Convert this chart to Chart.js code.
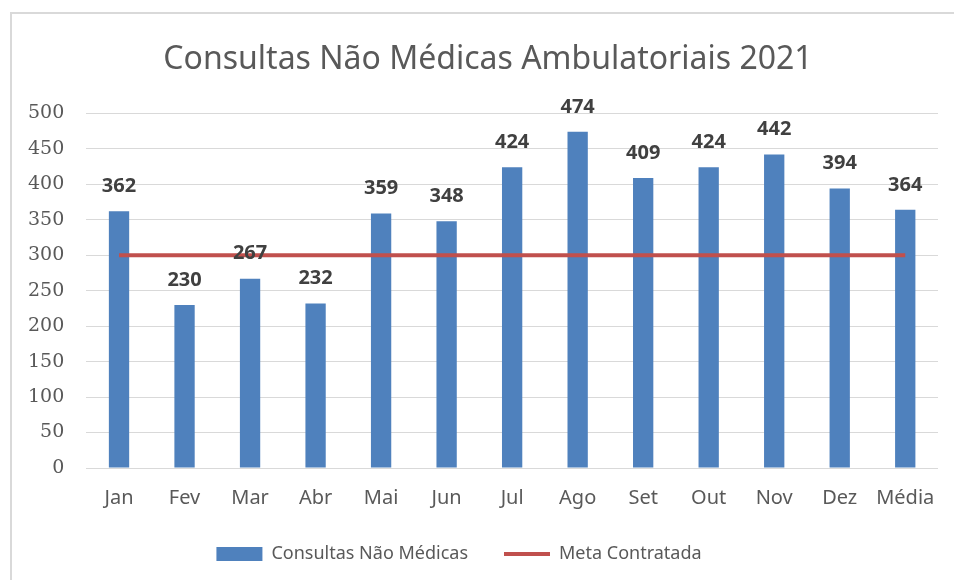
<!DOCTYPE html>
<html>
<head>
<meta charset="utf-8">
<script src="https://cdn.jsdelivr.net/npm/chart.js@4"></script>
<style>
  body { margin: 0; background: #fff; }
  #frame { position: absolute; left: 10px; top: 12px; width: 960px; height: 600px;
           border-left: 2px solid #d9d9d9; border-top: 2px solid #d9d9d9; }
  #wrap { position: absolute; left: 0; top: 0; width: 954px; height: 580px; }
</style>
</head>
<body>
<div id="frame"></div>
<div id="wrap"><canvas id="myChart"></canvas></div>
<script>
let labels = ['Jan', 'Fev', 'Mar', 'Abr', 'Mai', 'Jun', 'Jul', 'Ago', 'Set', 'Out', 'Nov', 'Dez', 'Média'];
let consultas = [362, 230, 267, 232, 359, 348, 424, 474, 409, 424, 442, 394, 364];
let meta = [300, 300, 300, 300, 300, 300, 300, 300, 300, 300, 300, 300, 300];
let yTicks = [0, 50, 100, 150, 200, 250, 300, 350, 400, 450, 500];

// value labels above the bars
const barValues = {
    id: 'barValues',
    afterDatasetsDraw(chart) {
        const ctx = chart.ctx;
        const bars = chart.getDatasetMeta(0).data;
        ctx.save();
        ctx.font = 'bold 20px "Noto Sans"';
        ctx.fillStyle = '#404040';
        ctx.textAlign = 'center';
        ctx.textBaseline = 'bottom';
        bars.forEach((bar, i) => {
            ctx.fillText(consultas[i], bar.x, bar.y - 15);
        });
        ctx.restore();
    }
};

// title sits a little right, legend a little left and higher in the original
const nudge = {
    id: 'nudge',
    afterLayout(chart) {
        const t = chart.titleBlock;
        t.left += 16;
        t.right += 16;
        const lg = chart.legend;
        lg.left -= 13;
        lg.right -= 13;
        lg.top -= 11;
        lg.bottom -= 11;
        lg.adjustHitBoxes();
    }
};

let myChart = document.getElementById("myChart").getContext('2d');

let chart = new Chart(myChart, {
    data: {
        labels: labels,
        datasets: [{
            type: 'bar',
            label: 'Consultas Não Médicas',
            data: consultas,
            backgroundColor: '#4F81BD',
            barPercentage: 0.31,
            categoryPercentage: 1,
            order: 2
        }, {
            type: 'line',
            label: 'Meta Contratada',
            data: meta,
            borderColor: '#C0504D',
            backgroundColor: '#C0504D',
            borderWidth: 4,
            pointRadius: 0,
            order: 1
        }]
    },
    options: {
        responsive: true,
        maintainAspectRatio: false,
        animation: false,
        layout: { padding: { left: 6, right: 16, top: 20, bottom: -4 } },
        plugins: {
            title: {
                display: true,
                text: 'Consultas Não Médicas Ambulatoriais 2021',
                color: '#595959',
                font: { family: '"Noto Sans"', size: 32, weight: 'normal' },
                padding: { top: 21, bottom: 34 }
            },
            legend: {
                position: 'bottom',
                labels: {
                    color: '#595959',
                    font: { family: '"Noto Sans"', size: 18 },
                    usePointStyle: true,
                    pointStyleWidth: 46,
                    boxHeight: 14,
                    padding: 36,
                    generateLabels(c) {
                        const items = Chart.defaults.plugins.legend.labels.generateLabels(c);
                        items.sort((a, b) => a.datasetIndex - b.datasetIndex);
                        items.forEach(it => {
                            if (it.datasetIndex === 0) {
                                it.pointStyle = 'rect';
                                it.lineWidth = 0;
                            } else {
                                it.pointStyle = 'line';
                                it.lineWidth = 4;
                                it.strokeStyle = '#C0504D';
                            }
                        });
                        return items;
                    }
                }
            },
            tooltip: { enabled: false }
        },
        scales: {
            x: {
                grid: { display: false },
                border: { display: false },
                ticks: {
                    color: '#595959',
                    font: { family: '"Noto Sans"', size: 20 },
                    padding: 10,
                    maxRotation: 0
                }
            },
            y: {
                min: 0,
                max: 500,
                afterBuildTicks(axis) { axis.ticks = yTicks.map(v => ({ value: v })); },
                grid: { color: '#d9d9d9', drawTicks: false },
                border: { display: false },
                ticks: {
                    color: '#595959',
                    font: { family: '"DejaVu Serif"', size: 19 },
                    padding: 22
                }
            }
        }
    },
    plugins: [barValues, nudge]
});
</script>
</body>
</html>
